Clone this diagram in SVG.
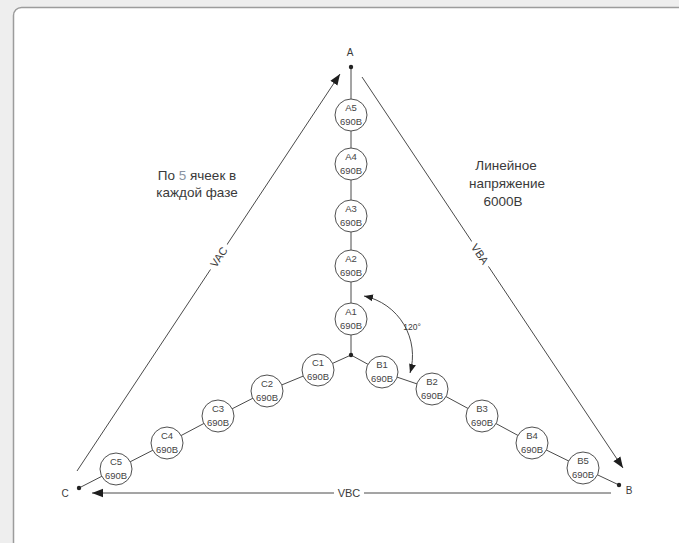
<svg xmlns="http://www.w3.org/2000/svg" width="679" height="543" viewBox="0 0 679 543">
  <style>
    .wire { fill: none; stroke: #4a4a4a; stroke-width: 1; }
    .side { fill: none; stroke: #4a4a4a; stroke-width: 1; }
    .cell circle { fill: #ffffff; stroke: #505050; stroke-width: 1; }
    .cell text { font-family: "Liberation Sans", Arial, sans-serif; font-size: 9.5px; fill: #444444; text-anchor: middle; }
    .lbl { font-family: "Liberation Sans", Arial, sans-serif; fill: #3a3a3a; text-anchor: middle; }
    .dot { fill: #222222; }
  </style>
  <defs>
    <marker id="arrow" markerUnits="userSpaceOnUse" markerWidth="12" markerHeight="10" viewBox="0 0 12 10" refX="11" refY="5" orient="auto-start-reverse">
      <path d="M0,0.8 L11,5 L0,9.2 Z" fill="#1e1e1e"/>
    </marker>
    <marker id="arrowSmall" markerUnits="userSpaceOnUse" markerWidth="10" markerHeight="8" viewBox="0 0 10 8" refX="9" refY="4" orient="auto-start-reverse">
      <path d="M0,0.5 L9,4 L0,7.5 Z" fill="#1e1e1e"/>
    </marker>
  </defs>

  <!-- page background and card -->
  <rect x="0" y="0" width="679" height="543" fill="#eeeeee"/>
  <rect x="13.5" y="7.5" width="700" height="545" rx="8" fill="#ffffff" stroke="#9c9c9c" stroke-width="1.5"/>

  <!-- connectors: phase chains, triangle sides, angle arc -->
  <g id="connectors">
    <polyline class="wire" points="351,67 351,115 351,164 351,216 351,266 351,319 351,355"/>
    <polyline class="wire" points="351,355 382,372 432,389 482,416 532,443 583,468 619,485"/>
    <polyline class="wire" points="351,355 318,370 267,391 218,416 167,443 116,469 79,488"/>

    <line class="side" x1="77" y1="471" x2="340" y2="74" marker-end="url(#arrow)"/>
    <line class="side" x1="362" y1="77" x2="623" y2="468" marker-end="url(#arrow)"/>
    <line class="side" x1="611" y1="493" x2="92" y2="493" stroke="#555555" stroke-width="1.4" marker-end="url(#arrow)"/>

    <path class="wire" d="M364,296 A61,61 0 0 1 410,373" marker-start="url(#arrowSmall)" marker-end="url(#arrowSmall)"/>

    <!-- side labels with a white gap behind them -->
    <g transform="translate(218.8,257) rotate(-56.5)">
      <rect x="-15" y="-6" width="30" height="12" fill="#ffffff"/>
      <text class="lbl" x="0" y="4" font-size="11">VAC</text>
    </g>
    <g transform="translate(480,254) rotate(56.3)">
      <rect x="-15" y="-6" width="30" height="12" fill="#ffffff"/>
      <text class="lbl" x="0" y="4" font-size="11">VBA</text>
    </g>
    <g transform="translate(349,493)">
      <rect x="-15" y="-6" width="30" height="12" fill="#ffffff"/>
      <text class="lbl" x="0" y="4" font-size="11">VBC</text>
    </g>
    <text class="lbl" x="412" y="330" font-size="8.5">120°</text>
  </g>

  <!-- terminals -->
  <g id="terminal-A">
    <circle class="dot" cx="351" cy="67" r="2.2"/>
    <text class="lbl" x="350" y="56" font-size="10">A</text>
  </g>
  <g id="terminal-B">
    <circle class="dot" cx="619" cy="485" r="2.2"/>
    <text class="lbl" x="629" y="494" font-size="10">B</text>
  </g>
  <g id="terminal-C">
    <circle class="dot" cx="79" cy="488" r="2.2"/>
    <text class="lbl" x="65" y="497" font-size="10">C</text>
  </g>
  <g id="neutral">
    <circle class="dot" cx="351" cy="355" r="2.2"/>
  </g>

  <!-- phase A cells -->
  <g id="A5" class="cell"><circle cx="351" cy="115" r="16"/><text x="351" y="111">A5</text><text x="351" y="125">690В</text></g>
  <g id="A4" class="cell"><circle cx="351" cy="164" r="16"/><text x="351" y="160">A4</text><text x="351" y="174">690В</text></g>
  <g id="A3" class="cell"><circle cx="351" cy="216" r="16"/><text x="351" y="212">A3</text><text x="351" y="226">690В</text></g>
  <g id="A2" class="cell"><circle cx="351" cy="266" r="16"/><text x="351" y="262">A2</text><text x="351" y="276">690В</text></g>
  <g id="A1" class="cell"><circle cx="351" cy="319" r="16"/><text x="351" y="315">A1</text><text x="351" y="329">690В</text></g>

  <!-- phase B cells -->
  <g id="B1" class="cell"><circle cx="382" cy="372" r="16"/><text x="382" y="368">B1</text><text x="382" y="382">690В</text></g>
  <g id="B2" class="cell"><circle cx="432" cy="389" r="16"/><text x="432" y="385">B2</text><text x="432" y="399">690В</text></g>
  <g id="B3" class="cell"><circle cx="482" cy="416" r="16"/><text x="482" y="412">B3</text><text x="482" y="426">690В</text></g>
  <g id="B4" class="cell"><circle cx="532" cy="443" r="16"/><text x="532" y="439">B4</text><text x="532" y="453">690В</text></g>
  <g id="B5" class="cell"><circle cx="583" cy="468" r="16"/><text x="583" y="464">B5</text><text x="583" y="478">690В</text></g>

  <!-- phase C cells -->
  <g id="C1" class="cell"><circle cx="318" cy="370" r="16"/><text x="318" y="366">C1</text><text x="318" y="380">690В</text></g>
  <g id="C2" class="cell"><circle cx="267" cy="391" r="16"/><text x="267" y="387">C2</text><text x="267" y="401">690В</text></g>
  <g id="C3" class="cell"><circle cx="218" cy="416" r="16"/><text x="218" y="412">C3</text><text x="218" y="426">690В</text></g>
  <g id="C4" class="cell"><circle cx="167" cy="443" r="16"/><text x="167" y="439">C4</text><text x="167" y="453">690В</text></g>
  <g id="C5" class="cell"><circle cx="116" cy="469" r="16"/><text x="116" y="465">C5</text><text x="116" y="479">690В</text></g>

  <!-- notes -->
  <g id="note-cells">
    <text class="lbl" x="197" y="180" font-size="13.5">По <tspan fill="#8a94a2">5</tspan> ячеек в</text>
    <text class="lbl" x="197" y="197" font-size="13.5">каждой фазе</text>
  </g>
  <g id="note-voltage">
    <text class="lbl" x="506" y="170" font-size="13.5">Линейное</text>
    <text class="lbl" x="507" y="188" font-size="13.5">напряжение</text>
    <text class="lbl" x="503" y="206" font-size="13.5">6000В</text>
  </g>
</svg>
